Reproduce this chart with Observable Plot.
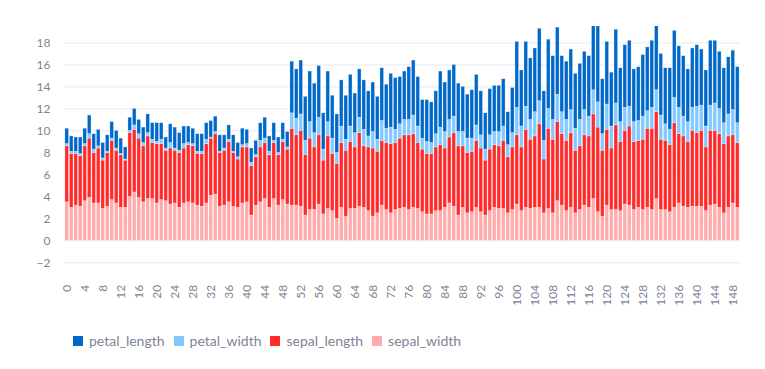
<!DOCTYPE html>
<html>
<head>
<meta charset="utf-8">
<script src="https://cdn.jsdelivr.net/npm/d3@7"></script>
<script src="https://cdn.jsdelivr.net/npm/@observablehq/plot@0.6"></script>
<style>
  body { margin: 0; background: #fff; font-family: Lato, "Noto Sans", sans-serif; }
  #legend { display: flex; align-items: center; margin-left: 73px; margin-top: 16px; font-size: 14px; color: #808495; }
  .item { display: flex; align-items: center; margin-right: 9px; }
  .sw { width: 10px; height: 10px; margin-right: 6px; }
</style>
</head>
<body>
<div id="chart"></div>
<div id="legend"></div>
<script>
const series = ["petal_length", "petal_width", "sepal_length", "sepal_width"];
const colors = ["#0068c9", "#83c9ff", "#ff2b2b", "#ffabab"];
const stackOrder = ["sepal_width", "sepal_length", "petal_width", "petal_length"];

const sepal_length = [5.1,4.9,4.7,4.6,5.0,5.4,4.6,5.0,4.4,4.9,5.4,4.8,4.8,4.3,5.8,5.7,5.4,5.1,5.7,5.1,5.4,5.1,4.6,5.1,4.8,5.0,5.0,5.2,5.2,4.7,4.8,5.4,5.2,5.5,4.9,5.0,5.5,4.9,4.4,5.1,5.0,4.5,4.4,5.0,5.1,4.8,5.1,4.6,5.3,5.0,
7.0,6.4,6.9,5.5,6.5,5.7,6.3,4.9,6.6,5.2,5.0,5.9,6.0,6.1,5.6,6.7,5.6,5.8,6.2,5.6,5.9,6.1,6.3,6.1,6.4,6.6,6.8,6.7,6.0,5.7,5.5,5.5,5.8,6.0,5.4,6.0,6.7,6.3,5.6,5.5,5.5,6.1,5.8,5.0,5.6,5.7,5.7,6.2,5.1,5.7,
6.3,5.8,7.1,6.3,6.5,7.6,4.9,7.3,6.7,7.2,6.5,6.4,6.8,5.7,5.8,6.4,6.5,7.7,7.7,6.0,6.9,5.6,7.7,6.3,6.7,7.2,6.2,6.1,6.4,7.2,7.4,7.9,6.4,6.3,6.1,7.7,6.3,6.4,6.0,6.9,6.7,6.9,5.8,6.8,6.7,6.7,6.3,6.5,6.2,5.9];
const sepal_width = [3.5,3.0,3.2,3.1,3.6,3.9,3.4,3.4,2.9,3.1,3.7,3.4,3.0,3.0,4.0,4.4,3.9,3.5,3.8,3.8,3.4,3.7,3.6,3.3,3.4,3.0,3.4,3.5,3.4,3.2,3.1,3.4,4.1,4.2,3.1,3.2,3.5,3.1,3.0,3.4,3.5,2.3,3.2,3.5,3.8,3.0,3.8,3.2,3.7,3.3,
3.2,3.2,3.1,2.3,2.8,2.8,3.3,2.4,2.9,2.7,2.0,3.0,2.2,2.9,2.9,3.1,3.0,2.7,2.2,2.5,3.2,2.8,2.5,2.8,2.9,3.0,2.8,3.0,2.9,2.6,2.4,2.4,2.7,2.7,3.0,3.4,3.1,2.3,3.0,2.5,2.6,3.0,2.6,2.3,2.7,3.0,2.9,2.9,2.5,2.8,
3.3,2.7,3.0,2.9,3.0,3.0,2.5,2.9,2.5,3.6,3.2,2.7,3.0,2.5,2.8,3.2,3.0,3.8,2.6,2.2,3.2,2.8,2.8,2.7,3.3,3.2,2.8,3.0,2.8,3.0,2.8,3.8,2.8,2.8,2.6,3.0,3.4,3.1,3.0,3.1,3.1,3.1,2.7,3.2,3.3,3.0,2.5,3.0,3.4,3.0];
const petal_length = [1.4,1.4,1.3,1.5,1.4,1.7,1.4,1.5,1.4,1.5,1.5,1.6,1.4,1.1,1.2,1.5,1.3,1.4,1.7,1.5,1.7,1.5,1.0,1.7,1.9,1.6,1.6,1.5,1.4,1.6,1.6,1.5,1.5,1.4,1.5,1.2,1.3,1.5,1.3,1.5,1.3,1.3,1.3,1.6,1.9,1.4,1.6,1.4,1.5,1.4,
4.7,4.5,4.9,4.0,4.6,4.5,4.7,3.3,4.6,3.9,3.5,4.2,4.0,4.7,3.6,4.4,4.5,4.1,4.5,3.9,4.8,4.0,4.9,4.7,4.3,4.4,4.8,5.0,4.5,3.5,3.8,3.7,3.9,5.1,4.5,4.5,4.7,4.4,4.1,4.0,4.4,4.6,4.0,3.3,4.2,4.2,4.2,4.3,3.0,4.1,
6.0,5.1,5.9,5.6,5.8,6.6,4.5,6.3,5.8,6.1,5.1,5.3,5.5,5.0,5.1,5.3,5.5,6.7,6.9,5.0,5.7,4.9,6.7,4.9,5.7,6.0,4.8,4.9,5.6,5.8,6.1,6.4,5.6,5.1,5.6,6.1,5.6,5.5,4.8,5.4,5.6,5.1,5.1,5.9,5.7,5.2,5.0,5.2,5.4,5.1];
const petal_width = [0.2,0.2,0.2,0.2,0.2,0.4,0.3,0.2,0.2,0.1,0.2,0.2,0.1,0.1,0.2,0.4,0.4,0.3,0.3,0.3,0.2,0.4,0.2,0.5,0.2,0.2,0.4,0.2,0.2,0.2,0.2,0.4,0.1,0.2,0.1,0.2,0.2,0.1,0.2,0.2,0.3,0.3,0.2,0.6,0.4,0.3,0.2,0.2,0.2,0.2,
1.4,1.5,1.5,1.3,1.5,1.3,1.6,1.0,1.3,1.4,1.0,1.5,1.0,1.4,1.3,1.4,1.5,1.0,1.5,1.1,1.8,1.3,1.5,1.2,1.3,1.4,1.4,1.7,1.5,1.0,1.1,1.0,1.2,1.6,1.5,1.6,1.5,1.3,1.3,1.3,1.2,1.4,1.2,1.0,1.3,1.2,1.3,1.3,1.1,1.3,
2.5,1.9,2.1,1.8,2.2,2.1,1.7,1.8,1.8,2.5,2.0,1.9,2.1,2.0,2.4,2.3,1.8,2.2,2.3,1.5,2.3,2.0,2.0,1.8,2.1,1.8,1.8,1.8,2.1,1.6,1.9,2.0,2.2,1.5,1.4,2.3,2.4,1.8,1.8,2.1,2.4,2.3,1.9,2.3,2.5,2.3,1.9,2.0,2.3,1.8];

const yTicks = [-2, 0, 2, 4, 6, 8, 10, 12, 14, 16, 18];
const xTicks = d3.range(0, 150, 4);

const cols = { sepal_length, sepal_width, petal_length, petal_width };
const rows = [];
for (let i = 0; i < sepal_length.length; i++) {
  for (const s of stackOrder) rows.push({ index: i, series: s, value: cols[s][i] });
}

const chart = Plot.plot({
  width: 765,
  height: 316,
  marginTop: 26,
  marginBottom: 53.7,
  marginLeft: 64,
  marginRight: 25,
  style: { fontFamily: "Lato, 'Noto Sans', sans-serif", fontSize: "12px", color: "#808495", background: "#fff" },
  x: { type: "band", domain: d3.range(sepal_length.length), padding: 0.2, label: null },
  y: { domain: [-2, 19.5], label: null },
  color: { domain: series, range: colors },
  marks: [
    Plot.ruleY(yTicks, { stroke: "#e6eaf1", strokeWidth: 1 }),
    Plot.barY(rows, Plot.stackY({
      x: "index", y: "value", z: "series", fill: "series",
      order: stackOrder, clip: true,
      stroke: "#fff", strokeWidth: 0.6, strokeOpacity: 0.45
    })),
    Plot.axisY({ ticks: yTicks, tickSize: 0, tickPadding: 14, label: null }),
    Plot.axisX({ ticks: xTicks, tickSize: 0, tickPadding: 22, tickRotate: -90, label: null })
  ]
});
document.getElementById("chart").appendChild(chart);

const legend = document.getElementById("legend");
series.forEach((s, i) => {
  const item = document.createElement("div");
  item.className = "item";
  const sw = document.createElement("span");
  sw.className = "sw";
  sw.style.background = colors[i];
  const t = document.createElement("span");
  t.textContent = s;
  item.appendChild(sw);
  item.appendChild(t);
  legend.appendChild(item);
});
</script>
</body>
</html>
